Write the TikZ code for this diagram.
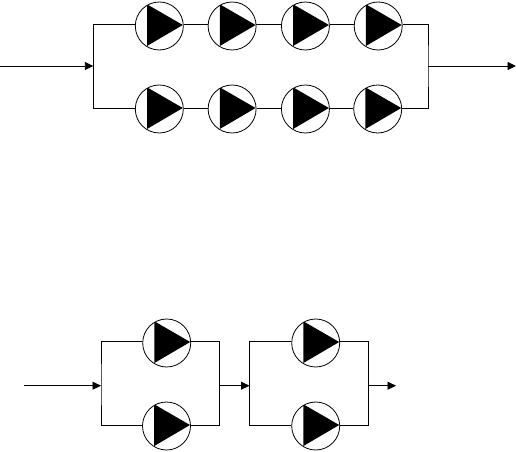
\documentclass[tikz,border=0pt]{standalone}
\usetikzlibrary{positioning,arrows.meta}
\begin{document}
\begin{tikzpicture}[x=1bp, y=-1bp,
  pump/.style={circle, draw, line width=0.8bp, inner sep=0pt, minimum size=48bp,
    path picture={\fill ([xshift=-12.3bp,yshift=21.7bp]path picture bounding box.center)
      -- ([xshift=23.5bp,yshift=1bp]path picture bounding box.center)
      -- ([xshift=-12.3bp,yshift=-20bp]path picture bounding box.center) -- cycle;}},
  pipe/.style={draw, line width=0.9bp},
  flow/.style={pipe, -{Triangle[length=8.5bp,width=8bp]}},
]
\useasboundingbox (0,0) rectangle (516,452);
% upper system
\node[pump] (a1) at (159.3,26) {};
\node[pump, right=24bp of a1] (a2) {};
\node[pump, right=24.5bp of a2] (a3) {};
\node[pump, right=24bp of a3] (a4) {};
\node[pump] (b1) at (159.3,109) {};
\node[pump, right=24bp of b1] (b2) {};
\node[pump, right=24.5bp of b2] (b3) {};
\node[pump, right=23.5bp of b3] (b4) {};
\coordinate (ain) at (0,66);
\coordinate (aleft) at (93.3,66);
\coordinate (aright) at (428,66);
\coordinate (aout) at (516,66);
\draw[pipe] (a1.3) -- (a2.177) (a2.3) -- (a3.177) (a3.3) -- (a4.177);
\draw[pipe] (b1.1) -- (b2.179) (b2.1) -- (b3.179) (b3.1) -- (b4.179);
\draw[pipe] (a1.177) -| (aleft) |- (b1.179);
\draw[pipe] (a4.3) -| (aright) |- (b4.1);
\draw[flow] (ain) -- (aleft);
\draw[flow] (aright) -- (aout);
% lower system
\node[pump] (c1) at (166.7,343) {};
\node[pump] (d1) at (166.5,426) {};
\node[pump] (c2) at (315.7,343) {};
\node[pump] (d2) at (315.7,426) {};
\coordinate (cin) at (24,385.7);
\coordinate (cleft) at (101,385.7);
\coordinate (cright) at (219.5,385.7);
\coordinate (eleft) at (249.5,385.7);
\coordinate (eright) at (368.5,385.7);
\coordinate (eout) at (396,385.7);
\draw[pipe] (c1.176) -| (cleft) |- (d1.178);
\draw[pipe] (c1.4) -| (cright) |- (d1.2);
\draw[pipe] (c2.176) -| (eleft) |- (d2.178);
\draw[pipe] (c2.4) -| (eright) |- (d2.2);
\draw[flow] (cin) -- (cleft);
\draw[flow] (cright) -- (eleft);
\draw[flow] (eright) -- (eout);
\end{tikzpicture}
\end{document}
